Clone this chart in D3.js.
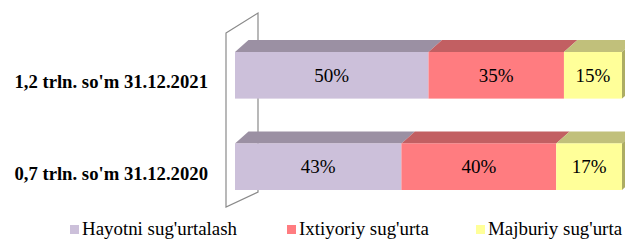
<!DOCTYPE html>
<html>
<head>
<meta charset="utf-8">
<script src="https://cdn.jsdelivr.net/npm/d3@7"></script>
<style>
  body { margin: 0; background: #fff; }
  svg { display: block; }
  text { font-family: "Liberation Serif", "Times New Roman", "DejaVu Serif", serif; }
</style>
</head>
<body>
<div id="chart"></div>
<script>
// categories (top to bottom) and series shares in %
const categories = ["1,2 trln. so'm 31.12.2021", "0,7 trln. so'm 31.12.2020"];
const seriesNames = ["Hayotni sug'urtalash", "Ixtiyoriy sug'urta", "Majburiy sug'urta"];
const hayotni = [50, 43];
const ixtiyoriy = [35, 40];
const majburiy = [15, 17];

const frontColors = ["#ccc0da", "#ff7c80", "#ffff99"];
const topColors = ["#9b90a3", "#c25f62", "#c1c07b"];
const sideColors = ["#9b90a3", "#c25f62", "#adad63"];

const width = 625, height = 240;
const depthX = 13.5, depthY = 12;

const svg = d3.select("#chart").append("svg")
    .attr("width", width)
    .attr("height", height);

const x = d3.scaleLinear().domain([0, 100]).range([235, 622]);
const y = d3.scaleBand().domain(categories).range([52, 190]).paddingInner(0.49).paddingOuter(0);

// stack the series
const rows = categories.map((c, i) => ({cat: c, vals: [hayotni[i], ixtiyoriy[i], majburiy[i]]}));
const stack = d3.stack().keys([0, 1, 2]).value((d, k) => d.vals[k]);
const stacked = stack(rows);

// back wall of the 3D plot
svg.append("path")
    .attr("d", "M226,33 L258,13 L258,192 L226,207 Z")
    .attr("fill", "#fff")
    .attr("stroke", "#8a8a8a")
    .attr("stroke-width", 1.2);

const faces = svg.append("g");
stacked.forEach((layer, k) => {
  layer.forEach((d) => {
    const x0 = x(d[0]), x1 = x(d[1]);
    const y0 = y(d.data.cat), h = y.bandwidth();
    // top face
    faces.append("path")
        .attr("d", `M${x0},${y0} L${x1},${y0} L${x1 + depthX},${y0 - depthY} L${x0 + depthX},${y0 - depthY} Z`)
        .attr("fill", topColors[k]);
    // front face
    faces.append("rect")
        .attr("x", x0)
        .attr("y", y0)
        .attr("width", x1 - x0)
        .attr("height", h)
        .attr("fill", frontColors[k]);
    // right side face on the last segment
    if (k === stacked.length - 1) {
      faces.append("path")
          .attr("d", `M${x1},${y0} L${x1 + depthX},${y0 - depthY} L${x1 + depthX},${y0 + h - depthY} L${x1},${y0 + h} Z`)
          .attr("fill", sideColors[k]);
    }
    // value label
    faces.append("text")
        .attr("x", (x0 + x1) / 2)
        .attr("y", y0 + h / 2 + 6.5)
        .attr("text-anchor", "middle")
        .attr("font-size", 19)
        .attr("fill", "#000")
        .text((d[1] - d[0]) + "%");
  });
});

// category labels
svg.append("g").selectAll("text")
    .data(categories)
    .enter().append("text")
    .attr("x", 208)
    .attr("y", (d) => y(d) + y.bandwidth() / 2 + 13)
    .attr("text-anchor", "end")
    .attr("font-weight", "bold")
    .attr("font-size", 18.7)
    .attr("fill", "#000")
    .text((d) => d);

// legend
const legendX = [70, 287, 476];
const legend = svg.append("g").selectAll("g")
    .data(seriesNames)
    .enter().append("g")
    .attr("transform", (d, i) => "translate(" + legendX[i] + ",225)");
legend.append("rect")
    .attr("width", 9)
    .attr("height", 9)
    .attr("fill", (d, i) => frontColors[i]);
legend.append("text")
    .attr("x", 12)
    .attr("y", 10)
    .attr("font-size", 18.9)
    .attr("fill", "#000")
    .text((d) => d);
</script>
</body>
</html>
